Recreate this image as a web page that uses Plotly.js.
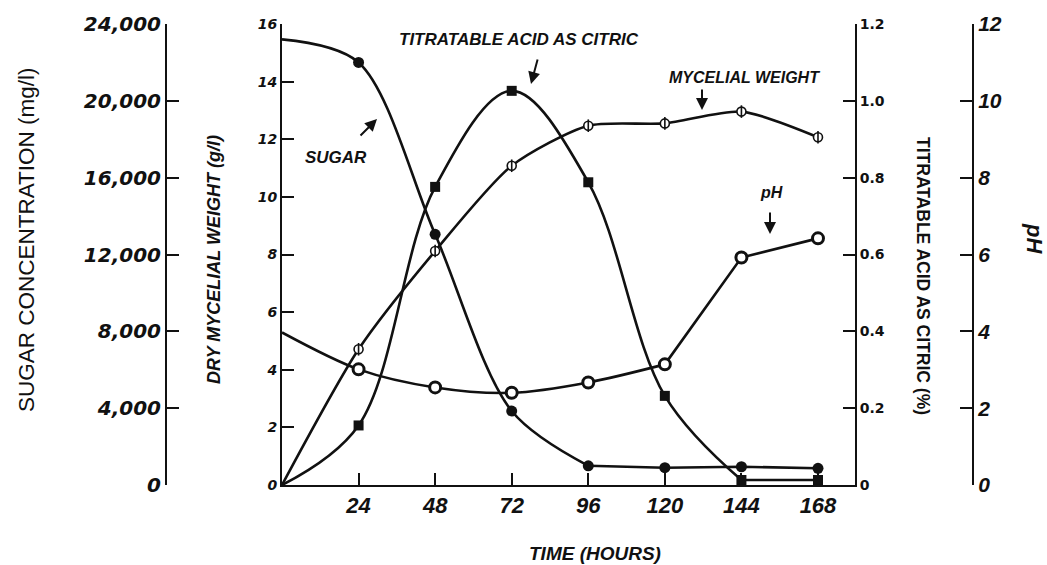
<!DOCTYPE html>
<html>
<head>
<meta charset="utf-8">
<script src="https://cdn.plot.ly/plotly-3.0.1.min.js"></script>
<style>html,body{margin:0;padding:0;background:#fff;}#chart{width:1047px;height:565px;}</style>
</head>
<body>
<div id="chart"></div>
<script>
// ---- data ----
const hours = [0, 24, 48, 72, 96, 120, 144, 168];
const sugar = [23200, 22000, 13050, 3850, 1000, 900, 950, 870];        // mg/l
const acid = [0, 0.155, 0.776, 1.026, 0.788, 0.232, 0.013, 0.013];      // % as citric
const mycelial = [0, 4.71, 8.12, 11.08, 12.47, 12.55, 12.96, 12.07];   // g/l
const ph = [3.97, 3.01, 2.54, 2.40, 2.67, 3.14, 5.92, 6.42];

const xTicks = [24, 48, 72, 96, 120, 144, 168];
const sugarTicks = [0, 4000, 8000, 12000, 16000, 20000, 24000];
const sugarTickText = ['0', '4,000', '8,000', '12,000', '16,000', '20,000', '24,000'];
const weightTicks = [0, 2, 4, 6, 8, 10, 12, 14, 16];
const acidTicks = [0, 0.2, 0.4, 0.6, 0.8, 1.0, 1.2];
const acidTickText = ['0', '0.2', '0.4', '0.6', '0.8', '1.0', '1.2'];
const phTicks = [0, 2, 4, 6, 8, 10, 12];

// ---- layout helpers (pixel -> paper) ----
const W = 1047, H = 565;
const px = v => v / W;
const py = v => 1 - v / H;

const LIB = 'Liberation Sans, Arial, sans-serif';
const DJV = 'DejaVu Sans, sans-serif';
const INK = '#111';
const LW = 2.6;

const mk = a => a.slice(1);
const seg = (a, i, j) => a.slice(i, j);

const curve = (x, y, yaxis, shape, smoothing) => ({
  x: x, y: y, yaxis: yaxis, mode: 'lines',
  line: {color: INK, width: LW, shape: shape, smoothing: smoothing},
  cliponaxis: false, hoverinfo: 'skip'
});

const traces = [
  // sugar (smooth decline, then nearly straight tail)
  curve(seg(hours, 0, 5), seg(sugar, 0, 5), 'y2', 'spline', 0.9),
  curve(seg(hours, 4, 8), seg(sugar, 4, 8), 'y2', 'spline', 0.3),
  {x: mk(hours), y: mk(sugar), yaxis: 'y2', mode: 'markers', marker: {symbol: 'circle', size: 11, color: INK}, cliponaxis: false},
  // titratable acid (smooth rise and fall, then flat tail)
  curve(seg(hours, 0, 7), seg(acid, 0, 7), 'y3', 'spline', 1),
  curve(seg(hours, 6, 8), seg(acid, 6, 8), 'y3', 'linear'),
  {x: mk(hours), y: mk(acid), yaxis: 'y3', mode: 'markers', marker: {symbol: 'square', size: 10, color: INK}, cliponaxis: false},
  // mycelial weight
  curve(hours, mycelial, 'y', 'spline', 0.7),
  {x: mk(hours), y: mk(mycelial), yaxis: 'y', mode: 'markers', marker: {symbol: 'circle', size: 9, color: '#fff', line: {color: INK, width: 1.6}}, cliponaxis: false},
  {x: mk(hours), y: mk(mycelial), yaxis: 'y', mode: 'markers', marker: {symbol: 'line-ns-open', size: 9, color: INK, line: {color: INK, width: 1.6}}, cliponaxis: false},
  // pH (smooth first part, straight segments afterwards)
  curve(seg(hours, 0, 6), seg(ph, 0, 6), 'y4', 'spline', 0.9),
  curve(seg(hours, 5, 8), seg(ph, 5, 8), 'y4', 'linear'),
  {x: mk(hours), y: mk(ph), yaxis: 'y4', mode: 'markers', marker: {symbol: 'circle', size: 11, color: '#fff', line: {color: INK, width: 3}}, cliponaxis: false}
];

const dom = [py(485), py(24)];
const axCommon = {
  showgrid: false, zeroline: false, showline: true, linecolor: INK, linewidth: 2,
  ticks: 'inside', ticklen: 12, tickwidth: 2, tickcolor: INK, fixedrange: true
};

const arrow = (x0, y0, x1, y1) => ({
  xref: 'paper', yref: 'paper', x: px(x1), y: py(y1), axref: 'pixel', ayref: 'pixel',
  ax: x0 - x1, ay: y0 - y1, text: '', showarrow: true,
  arrowhead: 2, arrowsize: 1.2, arrowwidth: 2, arrowcolor: INK
});
const label = (text, x, y, size, opts) => Object.assign({
  xref: 'paper', yref: 'paper', x: px(x), y: py(y), xanchor: 'center', yanchor: 'middle',
  text: text, showarrow: false,
  font: {family: LIB, size: size, color: INK, weight: 'bold', style: 'italic'}
}, opts || {});

const layout = {
  width: W, height: H, margin: {l: 0, r: 0, t: 0, b: 0},
  paper_bgcolor: '#fff', plot_bgcolor: 'rgba(0,0,0,0)', showlegend: false,
  xaxis: Object.assign({}, axCommon, {
    domain: [px(282), px(855)], range: [0, 179.6],
    tickvals: xTicks,
    tickfont: {family: LIB, size: 22, color: INK, weight: 'bold', style: 'italic'}
  }),
  yaxis: Object.assign({}, axCommon, {
    domain: dom, range: [0, 16], anchor: 'x', side: 'left',
    tickvals: weightTicks,
    tickfont: {family: DJV, size: 14, color: INK, weight: 'bold', style: 'italic'}
  }),
  yaxis2: Object.assign({}, axCommon, {
    domain: dom, range: [0, 24000], overlaying: 'y', anchor: 'free', position: px(166), side: 'left',
    tickvals: sugarTicks, ticktext: sugarTickText,
    tickfont: {family: DJV, size: 20, color: INK, weight: 'bold', style: 'italic'}
  }),
  yaxis3: Object.assign({}, axCommon, {
    domain: dom, range: [0, 1.2], overlaying: 'y', anchor: 'x', side: 'right',
    tickvals: acidTicks, ticktext: acidTickText,
    tickfont: {family: DJV, size: 14, color: INK, weight: 'bold'}
  }),
  yaxis4: Object.assign({}, axCommon, {
    domain: dom, range: [0, 12], overlaying: 'y', anchor: 'free', position: px(973), side: 'right',
    tickvals: phTicks,
    tickfont: {family: LIB, size: 21, color: INK, weight: 'bold', style: 'italic'}
  }),
  annotations: [
    // axis titles
    label('SUGAR CONCENTRATION (mg/l)', 26, 240, 22.5, {textangle: -90, font: {family: LIB, size: 22.5, color: INK}}),
    label('DRY MYCELIAL WEIGHT (g/l)', 214, 260, 18, {textangle: -90}),
    label('TITRATABLE ACID AS CITRIC (%)', 923, 276, 17.5, {textangle: 90, font: {family: LIB, size: 17.5, color: INK, weight: 'bold'}}),
    label('pH', 1035, 238, 22, {textangle: 90}),
    label('TIME (HOURS)', 595, 553, 19),
    // in-plot labels
    label('TITRATABLE ACID AS CITRIC', 519, 39, 17),
    label('SUGAR', 336, 157, 17),
    label('MYCELIAL WEIGHT', 744, 77, 16),
    label('pH', 771, 192, 16),
    arrow(538, 58, 531, 84),
    arrow(359, 137, 377, 119),
    arrow(702, 88, 702, 110),
    arrow(770, 211, 770, 234)
  ]
};

Plotly.newPlot('chart', traces, layout, {staticPlot: true, displayModeBar: false});
</script>
</body>
</html>
